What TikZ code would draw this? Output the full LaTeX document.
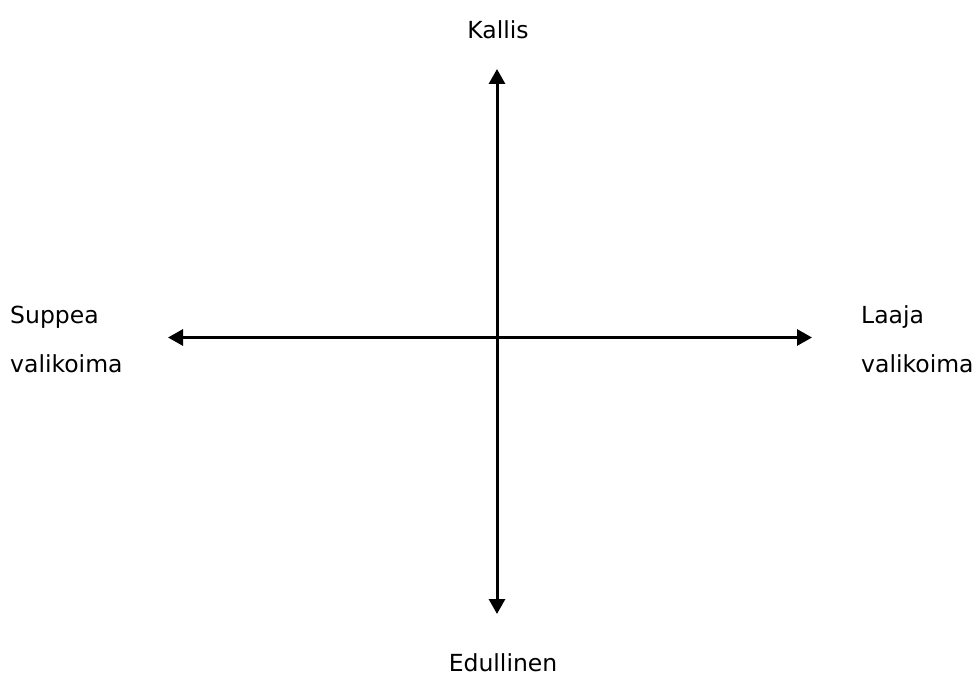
\documentclass[tikz,border=0pt]{standalone}
\usepackage{fontspec}
\setmainfont{DejaVu Sans}
\usetikzlibrary{arrows.meta}
\begin{document}
\begin{tikzpicture}[x=1pt,y=1pt,
  lbl/.style={inner sep=0pt,font=\fontsize{23.5}{28}\selectfont},
  axis/.style={line width=3pt,{Triangle[length=15pt,width=16pt]}-{Triangle[length=15pt,width=16pt]}}]
\useasboundingbox (0,0) rectangle (976,675);
\coordinate (top) at (497,606);
\coordinate (bottom) at (497,61);
\coordinate (left) at (168,337.5);
\coordinate (right) at (812,337.5);
\draw[axis] (bottom) -- (top);
\draw[axis] (left) -- (right);
\node[lbl,anchor=base] (kallis) at (498,636) {Kallis};
\node[lbl,anchor=base] (edullinen) at (503,4) {Edullinen};
\node[lbl,anchor=base west] (suppea) at (10,351) {Suppea};
\node[lbl,anchor=base west] (valikoimaL) at (10,302) {valikoima};
\node[lbl,anchor=base west] (laaja) at (861,351) {Laaja};
\node[lbl,anchor=base west] (valikoimaR) at (861,302) {valikoima};
\end{tikzpicture}
\end{document}
